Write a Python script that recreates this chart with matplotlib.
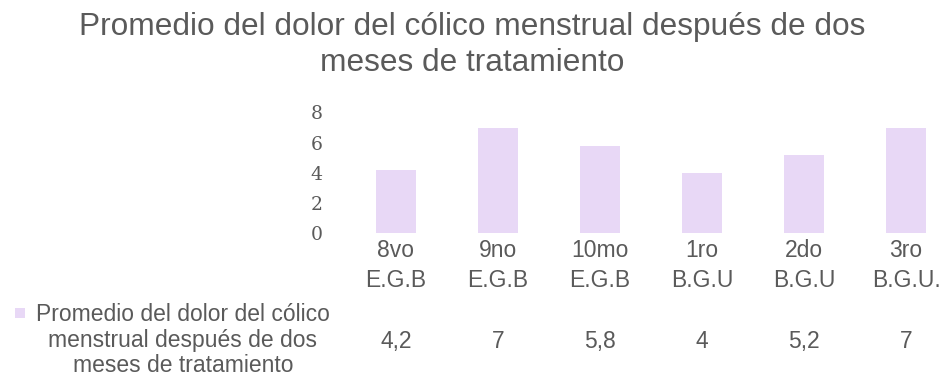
import matplotlib
matplotlib.use("Agg")
import matplotlib.pyplot as plt
import matplotlib.transforms as mtransforms

categories = ["8vo\nE.G.B", "9no\nE.G.B", "10mo\nE.G.B", "1ro\nB.G.U", "2do\nB.G.U", "3ro\nB.G.U."]
values = [4.2, 7, 5.8, 4, 5.2, 7]
value_labels = ["4,2", "7", "5,8", "4", "5,2", "7"]
yticks = [0, 2, 4, 6, 8]
series_name = "Promedio del dolor del cólico\nmenstrual después de dos\nmeses de tratamiento"
title_lines = ["Promedio del dolor del cólico menstrual después de dos", "meses de tratamiento"]

W, H = 944, 377
fig = plt.figure(figsize=(W / 100, H / 100), dpi=100)
TEXT = "#5a5a5a"
BAR = "#e8d8f6"
SANS = "Liberation Sans"

left_px, right_px = 345, 944
bottom_px, top_px = 233, 112.5
ax = fig.add_axes([left_px / W, 1 - bottom_px / H, (right_px - left_px) / W, (bottom_px - top_px) / H])
x = list(range(len(categories)))
ax.bar(x, values, width=0.39, color=BAR)
ax.set_xlim(-0.5, (right_px - 396) / 102.0)
ax.set_ylim(0, 8)
ax.set_yticks(yticks)
ax.set_yticklabels([str(t) for t in yticks], family="DejaVu Serif", fontsize=13.5, color=TEXT)
ax.tick_params(axis="y", length=0, pad=16)
ax.set_xticks(x)
ax.set_xticklabels(categories, family=SANS, fontsize=16.5, color=TEXT, linespacing=1.4)
ax.tick_params(axis="x", length=0, pad=4)
for s in ax.spines.values():
    s.set_visible(False)

# title
for yb, line in zip([35, 71], title_lines):
    fig.text(0.5, 1 - yb / H, line, ha="center", va="baseline", fontsize=22.8,
             family=SANS, color=TEXT)

# data table row
trans = mtransforms.blended_transform_factory(ax.transData, fig.transFigure)
for xi, lab in zip(x, value_labels):
    fig.text(xi, 1 - 348 / H, lab, transform=trans, ha="center", va="baseline",
             fontsize=16.5, family=SANS, color=TEXT)
for yb, line in zip([321, 347.5, 372], series_name.split("\n")):
    fig.text(183 / W, 1 - yb / H, line, ha="center", va="baseline", fontsize=16.5,
             family=SANS, color=TEXT)
fig.patches.append(plt.Rectangle((15 / W, 1 - 318 / H), 10 / W, 10 / H, transform=fig.transFigure,
                                 facecolor=BAR, edgecolor="none"))

fig.savefig("out.png", dpi=100)
